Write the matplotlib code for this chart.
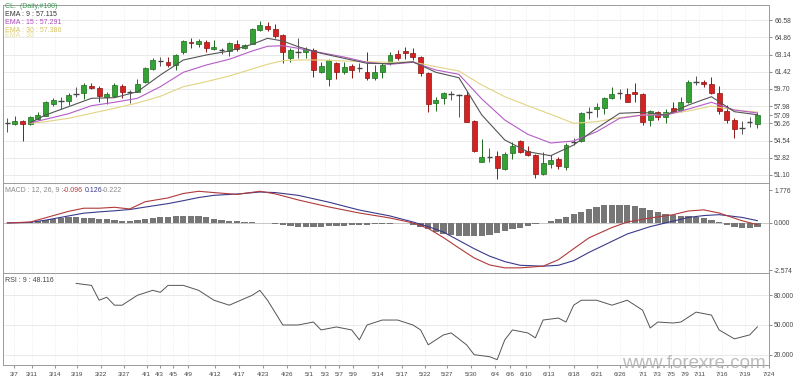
import matplotlib.pyplot as plt

plt.rcParams['font.family'] = ['Liberation Sans', 'DejaVu Sans']

# ---- daily candles (visible bars 0..98)
opens = [56.32, 56.22, 56.46, 56.16, 56.66, 57.02, 58.22, 58.50, 58.49, 59.19,
         59.26, 60.00, 59.82, 58.86, 59.02, 59.99, 59.43, 59.42, 60.36, 61.69,
         62.49, 62.42, 62.09, 63.36, 64.36, 64.16, 64.42, 63.66, 63.56, 63.49,
         64.22, 63.76, 64.22, 65.59, 66.02, 65.69, 65.09, 62.82, 63.43, 63.36,
         63.59, 61.42, 60.69, 62.32, 61.36, 62.02, 61.76, 61.36, 60.76, 61.36,
         62.26, 63.16, 63.49, 63.29, 62.92, 61.26, 58.26, 58.82, 59.17, 59.09,
         59.09, 56.49, 52.42, 52.89, 52.99, 51.69, 53.26, 54.52, 53.49, 53.09,
         51.16, 52.22, 52.69, 51.92, 54.42, 54.49, 57.36, 57.69, 57.82, 58.82,
         59.26, 59.19, 59.36, 59.16, 56.56, 57.36, 56.89, 57.76, 57.59, 58.36,
         60.42, 60.42, 60.22, 59.26, 57.52, 56.59, 55.82, 56.36, 56.22]
highs = [56.76, 57.02, 56.59, 57.00, 57.36, 58.49, 58.76, 58.92, 59.26, 59.92,
         60.26, 60.26, 60.02, 59.36, 60.32, 60.16, 59.56, 60.69, 61.86, 62.76,
         62.92, 62.86, 63.16, 64.59, 64.76, 64.69, 64.56, 64.59, 63.76, 64.42,
         64.59, 64.22, 65.76, 66.52, 66.36, 66.16, 65.16, 63.76, 64.76, 63.92,
         63.76, 62.42, 62.69, 62.42, 62.42, 62.16, 62.26, 63.36, 62.09, 62.26,
         63.42, 63.59, 63.92, 63.76, 63.02, 61.36, 58.92, 59.36, 59.49, 59.16,
         59.49, 56.59, 54.66, 53.82, 53.49, 53.36, 54.36, 54.59, 53.99, 53.16,
         53.36, 53.09, 52.92, 54.26, 54.76, 57.36, 57.92, 58.26, 58.92, 59.92,
         59.69, 59.82, 60.26, 59.26, 57.59, 57.49, 57.69, 58.36, 58.92, 60.59,
         60.99, 60.59, 60.92, 60.02, 58.09, 56.76, 56.49, 56.92, 57.36]
lows = [55.42, 56.09, 54.52, 56.09, 56.59, 56.99, 58.02, 57.69, 58.09, 58.92,
        58.69, 59.69, 58.36, 58.16, 58.92, 58.76, 58.26, 59.36, 60.26, 61.59,
        62.02, 61.92, 61.59, 63.16, 63.76, 63.92, 63.42, 63.56, 63.16, 63.02,
        63.49, 63.66, 64.16, 65.52, 65.52, 64.76, 62.26, 62.42, 62.82, 62.76,
        60.92, 61.26, 60.02, 60.69, 61.16, 60.82, 61.36, 60.59, 60.59, 60.82,
        62.09, 62.59, 62.69, 62.59, 61.02, 57.36, 57.49, 58.16, 58.59, 56.92,
        56.36, 53.42, 52.36, 52.42, 50.69, 51.59, 52.69, 53.26, 53.02, 50.82,
        51.09, 51.82, 51.69, 51.59, 54.09, 54.42, 56.69, 56.92, 57.16, 58.69,
        58.69, 58.36, 58.36, 56.09, 56.02, 56.59, 56.26, 57.36, 57.42, 58.26,
        60.09, 59.92, 59.16, 57.16, 56.26, 54.76, 55.16, 55.92, 55.76]
closes = [56.33, 56.49, 56.19, 56.86, 57.09, 58.36, 58.56, 58.52, 59.09, 59.20,
          60.09, 59.82, 59.02, 59.19, 60.09, 59.36, 59.42, 60.16, 61.76, 62.59,
          62.50, 62.09, 63.09, 64.49, 64.29, 64.52, 63.76, 63.86, 63.55, 64.29,
          63.69, 64.09, 65.66, 66.09, 65.66, 65.02, 63.36, 63.59, 63.42, 63.69,
          61.59, 61.99, 62.59, 61.36, 61.92, 61.59, 61.75, 60.76, 61.36, 62.09,
          63.09, 62.76, 63.26, 62.92, 61.26, 58.16, 58.59, 59.26, 59.16, 59.08,
          56.42, 53.49, 52.86, 52.88, 51.76, 53.19, 53.99, 53.42, 53.09, 51.16,
          52.26, 52.56, 52.02, 54.09, 54.43, 57.26, 57.39, 57.86, 58.76, 59.19,
          59.25, 58.42, 59.19, 56.36, 57.49, 56.86, 57.42, 57.42, 58.36, 60.36,
          60.43, 60.16, 59.32, 57.49, 56.59, 55.69, 55.83, 56.37, 57.09]

# ---- moving averages, read at sample bars
ema_bars = [3, 5, 8, 11, 14, 17, 20, 23, 26, 29, 32, 34, 36, 38, 41, 44, 47,
            50, 53, 56, 59, 62, 65, 68, 71, 74, 77, 80, 83, 86, 89, 92, 95, 98]
ema9 = [56.32, 57.09, 57.92, 58.76, 58.82, 59.42, 61.09, 62.59, 63.09, 63.49,
        64.16, 64.76, 64.49, 63.92, 63.26, 62.76, 62.26, 62.22, 62.42, 61.36,
        60.82, 57.09, 54.59, 53.42, 53.02, 54.09, 55.76, 57.26, 57.36, 57.09,
        58.09, 58.92, 57.42, 57.115]
ema15 = [56.32, 56.66, 57.22, 58.02, 58.36, 58.76, 59.92, 61.36, 62.09, 62.66,
         63.49, 63.96, 64.02, 63.76, 63.32, 62.89, 62.36, 62.16, 62.36, 61.59,
         61.16, 58.69, 56.59, 55.16, 54.29, 54.49, 55.42, 56.76, 57.09, 57.06,
         57.69, 58.36, 57.59, 57.291]
ema30 = [56.26, 56.42, 56.76, 57.26, 57.76, 58.29, 58.96, 59.92, 60.42, 60.99,
         61.69, 62.16, 62.52, 62.59, 62.59, 62.49, 62.42, 62.36, 62.39, 61.92,
         61.49, 60.09, 58.92, 58.02, 57.16, 56.26, 56.42, 56.82, 57.09, 57.16,
         57.49, 57.99, 57.59, 57.386]

# ---- MACD (12, 26, 9)
macd_bars = [0, 3, 5, 8, 10, 12, 14, 16, 18, 21, 23, 25, 27, 30, 33, 35, 38, 42,
             46, 50, 53, 55, 57, 59, 61, 63, 65, 67, 70, 72, 74, 76, 79, 81, 84,
             87, 89, 91, 93, 96, 98]
macd = [0.0, 0.05, 0.28, 0.63, 0.8, 0.8, 0.85, 0.76, 1.15, 1.36, 1.6, 1.72,
        1.65, 1.55, 1.72, 1.58, 1.25, 0.87, 0.54, 0.27, 0.0, -0.3, -0.8, -1.36,
        -1.9, -2.28, -2.44, -2.44, -2.35, -2.0, -1.4, -0.81, -0.25, 0.05, 0.27,
        0.45, 0.65, 0.71, 0.54, 0.12, -0.096]
signal = [0.0, 0.03, 0.15, 0.38, 0.53, 0.6, 0.66, 0.73, 0.86, 1.05, 1.21, 1.38,
          1.5, 1.57, 1.68, 1.65, 1.5, 1.13, 0.7, 0.38, 0.05, -0.2, -0.5, -0.95,
          -1.4, -1.8, -2.1, -2.3, -2.35, -2.3, -2.05, -1.6, -1.0, -0.6, -0.2,
          0.1, 0.3, 0.4, 0.45, 0.3, 0.126]
hist = [0, 0, 0.02, 0.03,
        0.1, 0.15, 0.2, 0.25, 0.3, 0.3, 0.28,
        0.25, 0.22, 0.2, 0.15, 0.12, 0.1, 0.15,
        0.2, 0.25, 0.3, 0.32, 0.35, 0.38, 0.38, 0.35, 0.3, 0.2,
        0.15, 0.1, 0.08, 0.05, 0.03, 0.02, 0.0,
        -0.05, -0.1, -0.15, -0.2, -0.2, -0.22, -0.2, -0.18, -0.15, -0.15, -0.12,
        -0.1, -0.1, -0.08, -0.05, -0.05, -0.03, -0.02,
        -0.1, -0.2, -0.35, -0.5, -0.6, -0.65, -0.7, -0.7, -0.72, -0.7, -0.65,
        -0.55, -0.45, -0.35, -0.25, -0.15, -0.05, 0.0, 0.1, 0.2, 0.3,
        0.5, 0.6, 0.75, 0.85, 0.95, 1.0, 1.0, 0.95, 0.9, 0.8, 0.7, 0.6, 0.5,
        0.45, 0.4, 0.35, 0.3, 0.25, 0.15, 0.05,
        -0.1, -0.2, -0.25, -0.25, -0.222]

# ---- RSI (9)
rsi_bars = [9, 11, 12, 13, 14, 15, 17, 19, 20, 21, 23, 25, 27, 29, 32, 33, 34,
            36, 38, 40, 41, 43, 45, 46, 47, 49, 51, 53, 54, 55, 56, 57, 58, 60,
            61, 63, 64, 65, 66, 68, 69, 70, 72, 73, 74, 75, 77, 79, 81, 83, 84,
            85, 87, 88, 90, 92, 93, 95, 96, 97, 98]
rsi = [92, 90, 75, 78, 70, 70, 80, 85, 83, 90, 90, 85, 75, 70, 80, 85, 75,
       50, 50, 53, 45, 48, 45, 35, 50, 55, 55, 50, 45, 30, 35, 40, 42, 30,
       20, 18, 15, 35, 45, 42, 37, 55, 57, 53, 70, 75, 75, 70, 75, 65, 47,
       53, 52, 53, 63, 60, 45, 36, 38, 40, 48.116]

price_ticks = [66.58, 64.86, 63.14, 61.42, 59.70, 57.98, 56.26, 54.54, 52.82, 51.10]
last_close_tick = 57.09
date_labels = ['3/7', '3/11', '3/14', '3/19', '3/22', '3/27', '4/1', '4/3', '4/5',
               '4/9', '4/12', '4/17', '4/23', '4/26', '5/1', '5/3', '5/7', '5/9',
               '5/14', '5/17', '5/22', '5/27', '5/30', '6/4', '6/6', '6/10',
               '6/13', '6/18', '6/21', '6/26', '7/1', '7/3', '7/5', '7/9',
               '7/11', '7/16', '7/19', '7/24']
date_pos = [0.9, 3.2, 6.2, 9.1, 12.2, 15.2, 18.2, 19.9, 21.7, 23.6, 27.1, 30.3,
            33.4, 36.6, 39.5, 41.5, 43.3, 45.2, 48.5, 51.6, 54.6, 57.5, 60.6,
            63.7, 65.7, 67.8, 70.8, 74.0, 77.0, 80.1, 83.1, 84.9, 86.7, 88.5,
            90.4, 93.4, 96.4, 99.5]

W, H = 800, 378


def box(x0, y0, x1, y1):
    return [x0 / W, 1 - y1 / H, (x1 - x0) / W, (y1 - y0) / H]


fig = plt.figure(figsize=(8, 3.78), dpi=100)
ax_p = fig.add_axes(box(3.3, 5, 769, 183))
ax_m = fig.add_axes(box(3.3, 183, 769, 273), sharex=ax_p)
ax_r = fig.add_axes(box(3.3, 273, 769, 365), sharex=ax_p)

grid_col = '#e6e6e6'
for ax in (ax_p, ax_m, ax_r):
    ax.yaxis.tick_right()
    ax.tick_params(axis='y', direction='out', length=2.5, width=0.6, color='#777777',
                   labelsize=4.8, labelcolor='#444444', pad=1.2)
    ax.tick_params(axis='x', length=0, labelbottom=False)
    for s in ax.spines.values():
        s.set_color('#9a9a9a')
        s.set_linewidth(0.7)
    for p in date_pos:
        ax.axvline(p, color=grid_col, lw=0.5, ls=(0, (1, 1.5)), zorder=0)

# ---- price panel
for p in price_ticks:
    ax_p.axhline(p, color=grid_col, lw=0.6, zorder=0)
for i in range(len(opens)):
    o, h, l, c = opens[i], highs[i], lows[i], closes[i]
    if abs(c - o) < 0.04:
        ax_p.vlines(i, l, h, color='#555555', lw=0.7, zorder=2)
        ax_p.hlines(o, i - 0.36, i + 0.36, color='#444444', lw=1.0, zorder=3)
        continue
    if c > o:
        face, edge = '#34a234', '#1e6a1e'
    else:
        face, edge = '#d42222', '#8c1414'
    ax_p.vlines(i, l, h, color=edge, lw=0.7, zorder=2)
    ax_p.bar(i, c - o, bottom=o, width=0.64, color=face, edgecolor=edge, lw=0.5, zorder=3)

ax_p.plot(ema_bars, ema30, color='#e2d382', lw=0.8, zorder=4)
ax_p.plot(ema_bars, ema15, color='#b55cc8', lw=0.8, zorder=4)
ax_p.plot(ema_bars, ema9, color='#555555', lw=0.8, zorder=4)

ax_p.set_xlim(-0.52, 99.52)
ax_p.set_ylim(50.29, 68.09)
ax_p.set_yticks(price_ticks + [last_close_tick])
ax_p.set_yticklabels(['%.2f' % v for v in price_ticks + [last_close_tick]])

fig.text(5 / W, 1 - 6.5 / H, 'CL.  (Daily,#100)', fontsize=5, color='#3f9a55', va='center')
fig.text(5 / W, 1 - 14.5 / H, 'EMA : 9 : 57.115', fontsize=5, color='#333333', va='center')
fig.text(5 / W, 1 - 22.5 / H, 'EMA : 15 : 57.291', fontsize=5, color='#b04cc0', va='center')
fig.text(5 / W, 1 - 30 / H, 'EMA : 30 : 57.386', fontsize=5, color='#d8c462', va='center')
fig.text(5 / W, 1 - 35.5 / H, 'EMA : 30', fontsize=5, color='#e6dc9a', va='center')

# ---- MACD panel
ax_m.axhline(0, color='#c8c8c8', lw=0.7, zorder=0)
ax_m.bar(range(len(hist)), hist, width=0.82, color='#767676', zorder=2)
ax_m.plot(macd_bars, signal, color='#3a3a8c', lw=0.8, zorder=3)
ax_m.plot(macd_bars, macd, color='#b03a3a', lw=0.8, zorder=3)
ax_m.set_ylim(-2.72, 2.17)
ax_m.set_yticks([1.776, 0.0, -2.574])
ax_m.set_yticklabels(['1.776', '0.000', '-2.574'])

fig.text(5 / W, 1 - 190 / H, 'MACD : 12, 26, 9 :', fontsize=5, color='#888888', va='center')
fig.text(63 / W, 1 - 190 / H, '-0.096', fontsize=5, color='#b03a3a', va='center')
fig.text(85 / W, 1 - 190 / H, '0.126', fontsize=5, color='#3a3a8c', va='center')
fig.text(102 / W, 1 - 190 / H, '-0.222', fontsize=5, color='#888888', va='center')

# ---- RSI panel
for lv in (80, 50, 20):
    ax_r.axhline(lv, color=grid_col, lw=0.6, zorder=0)
ax_r.plot(rsi_bars, rsi, color='#555555', lw=0.7)
ax_r.set_ylim(9.6, 102.5)
ax_r.set_yticks([80, 50, 20])
ax_r.set_yticklabels(['80.000', '50.000', '20.000'])
ax_r.set_xticks(date_pos)
ax_r.set_xticklabels(date_labels)
ax_r.tick_params(axis='x', labelbottom=True, labelsize=4.6, labelcolor='#444444',
                 length=2, color='#999999', pad=3)

fig.text(5 / W, 1 - 280 / H, 'RSI : 9 : 48.116', fontsize=5, color='#444444', va='center')

fig.text(622 / W, 1 - 367.5 / H, 'www.forexre.com', fontsize=13.5, color='#b0b0b0',
         alpha=0.85, va='baseline')

fig.savefig('out.png', dpi=100)
